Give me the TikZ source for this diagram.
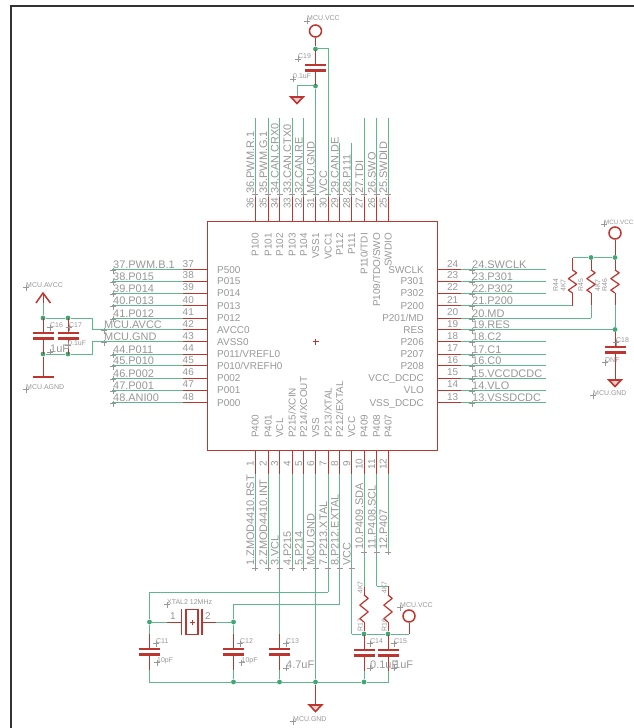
\documentclass[tikz,border=0pt]{standalone}
\usepackage{fontspec}
\setmainfont{Liberation Sans}
\definecolor{sred}{HTML}{BC352E}
\definecolor{sgreen}{HTML}{5FB88C}
\definecolor{jgreen}{HTML}{3FA873}
\definecolor{tgray}{HTML}{979797}
\definecolor{frameg}{HTML}{333333}
\tikzset{
  pinred/.style={draw=sred,line width=1bp},
  wire/.style={draw=sgreen,line width=1bp},
  junction/.style={circle,fill=jgreen,inner sep=0pt,minimum size=4.8bp},
  sym/.style={draw=sred,line width=1.2bp},
  plate/.style={draw=sred,line width=2.2bp},
  chipbox/.style={draw=sred,line width=1bp},
  pinname/.style={inner sep=0pt,text=tgray,font=\fontsize{10}{10}\selectfont},
  netname/.style={inner sep=0pt,text=tgray,font=\fontsize{11}{11}\selectfont},
  smalltxt/.style={inner sep=0pt,text=tgray,font=\fontsize{7}{7}\selectfont},
  orig/.style={draw=tgray,line width=0.4bp},
  vcccirc/.style={circle,draw=sred,line width=1.5bp,inner sep=0pt,minimum size=12bp},
}
% text-origin cross
\newcommand{\origc}[2]{\draw[orig] (#1-3,#2) -- (#1+3,#2) (#1,#2-3) -- (#1,#2+3);}
% small label: name, x, y, text
\newcommand{\slbl}[4]{\origc{#2}{#3}\node[smalltxt,anchor=base west] (#1) at (#2,#3) {#4};}
% rotated small label
\newcommand{\rlbl}[4]{\node[smalltxt,rotate=90,anchor=base west] (#1) at (#2,#3) {#4};}
% capacitor: name, x, y of upper plate
\newcommand{\capv}[3]{%
  \coordinate (#1t) at (#2,#3-15);
  \coordinate (#1p) at (#2,#3);
  \coordinate (#1q) at (#2,#3+5.5);
  \coordinate (#1b) at (#2,#3+20.5);
  \draw[pinred] (#1t) -- (#1p) (#1q) -- (#1b);
  \draw[plate] (#2-10.5,#3) -- (#2+10.5,#3) (#2-10.5,#3+5.5) -- (#2+10.5,#3+5.5);}
% resistor: name, x, y1, y2
\newcommand{\resv}[4]{%
  \pgfmathsetmacro{\rs}{(#4-#3)/8}
  \coordinate (#1t) at (#2,#3);
  \coordinate (#1b) at (#2,#4);
  \draw[sym,line join=round] (#1t) -- ++(4.2,\rs) -- ++(-8.4,2*\rs) -- ++(8.4,2*\rs) -- ++(-8.4,2*\rs) -- (#1b);}
% ground triangle: x, y top
\newcommand{\gndtri}[2]{%
  \draw[draw=sred,line width=1.6bp,fill=sred!25,line join=miter] (#1-6.2,#2) -- (#1+6.2,#2) -- (#1,#2+6.5) -- cycle;}
\begin{document}
\begin{tikzpicture}[x=1bp,y=-1bp]
\useasboundingbox (0,0) rectangle (634,728);
% frame
\coordinate (fa) at (11,6); \coordinate (fb) at (634,6); \coordinate (fc) at (11,728);
\draw[frameg,line width=1.3bp] (fb) -- (fa) -- (fc);
% chip
\node[chipbox,minimum width=230bp,minimum height=229bp,inner sep=0pt,anchor=north west] (chip) at (207,221) {};
\draw[draw=sred,line width=0.7bp] (312.5,341.5) -- (318.5,341.5) (315.5,338.5) -- (315.5,344.5);
% left pins
\foreach \n/\y/\nm/\net in {37/269.5/P500/{37.PWM.B.1},38/281/P015/{38.P015},39/293/P014/{39.P014},40/305.5/P013/{40.P013},41/318/P012/{41.P012},44/354/P011\slash VREFL0/{44.P011},45/365.5/P010\slash VREFH0/{45.P010},46/378/P002/{46.P002},47/390/P001/{47.P001},48/402.5/P000/{48.ANI00}}{
  \coordinate (La\n) at (207,\y); \coordinate (L\n) at (183,\y); \coordinate (Le\n) at (112,\y);
  \draw[pinred] (La\n) -- (L\n);
  \draw[wire] (L\n) -- (Le\n);
  \node[pinname,anchor=base east] (Ln\n) at (194,\y-2.5) {\n};
  \node[pinname,anchor=base west] (Lp\n) at (217,\y+3.5) {\nm};
  \node[netname,anchor=base west] (Lt\n) at (113,\y-1) {\net};
  \origc{113}{\y+1}
}
\foreach \n/\y/\nm/\net in {42/329.5/AVCC0/{MCU.AVCC},43/341.5/AVSS0/{MCU.GND}}{
  \coordinate (La\n) at (207,\y); \coordinate (L\n) at (183,\y); \coordinate (Le\n) at (92,\y);
  \draw[pinred] (La\n) -- (L\n);
  \draw[wire] (L\n) -- (Le\n);
  \node[pinname,anchor=base east] (Ln\n) at (194,\y-2.5) {\n};
  \node[pinname,anchor=base west] (Lp\n) at (217,\y+3.5) {\nm};
  \node[netname,anchor=base west] (Lt\n) at (104,\y-1) {\net};
  \origc{104}{\y+1}
}
% right pins
\foreach \n/\y/\nm/\net/\xe in {24/269.5/SWCLK/{24.SWCLK}/546,23/281/P301/{23.P301}/546,22/293/P302/{22.P302}/546,21/305.5/P200/{21.P200}/572.5,20/318/P201\slash MD/{20.MD}/591,19/329.5/RES/{19.RES}/615,18/341.5/P206/{18.C2}/546,17/354/P207/{17.C1}/546,16/365.5/P208/{16.C0}/546,15/378/VCC\_DCDC/{15.VCCDCDC}/546,14/390/VLO/{14.VLO}/546,13/402.5/VSS\_DCDC/{13.VSSDCDC}/546}{
  \coordinate (Ra\n) at (437,\y); \coordinate (R\n) at (461,\y); \coordinate (Re\n) at (\xe,\y);
  \draw[pinred] (Ra\n) -- (R\n);
  \draw[wire] (R\n) -- (Re\n);
  \node[pinname,anchor=base west] (Rn\n) at (447,\y-2.5) {\n};
  \node[pinname,anchor=base east] (Rp\n) at (424,\y+3.5) {\nm};
  \node[netname,anchor=base west] (Rt\n) at (472,\y-1) {\net};
  \origc{472}{\y+1}
}
% top pins
\foreach \n/\x/\nm/\net/\ye in {36/255/P100/{36.PWM.R.1}/118,35/268/P101/{35.PWM.G.1}/118,34/279.5/P102/{34.CAN.CRX0}/118,33/292/P103/{33.CAN.CTX0}/118,32/303.5/P104/{32.CAN.RE}/118,31/315.5/VSS1/{MCU.GND}/197,30/328/VCC1/{VCC}/197,29/339.5/P112/{29.CAN.DE}/143,28/351.5/P111/{28.P111}/143,27/364/P110\slash TDI/{27.TDI}/118,26/376.5/P109\slash TDO\slash SWO/{26.SWO}/118,25/388/SWDIO/{25.SWDID}/118}{
  \coordinate (Ta\n) at (\x,221); \coordinate (T\n) at (\x,197); \coordinate (Te\n) at (\x,\ye);
  \draw[pinred] (Ta\n) -- (T\n);
  \draw[wire] (T\n) -- (Te\n);
  \node[pinname,rotate=90,anchor=base] (Tn\n) at (\x-1.5,203) {\n};
  \node[pinname,rotate=90,anchor=base east] (Tp\n) at (\x+3.5,233) {\nm};
  \node[netname,rotate=90,anchor=base west] (Tt\n) at (\x-1,194) {\net};
  \origc{\x}{194}
}
% bottom pins
\foreach \n/\x/\nm/\net/\ys/\ye in {1/255/P400/{1.ZMOD4410.RST}/566/568,2/268/P401/{2.ZMOD4410.INT}/566/568,3/279.5/VCL/{3.VCL}/566/635,4/292/P215\slash XCIN/{4.P215}/566/568,5/303.5/P214\slash XCOUT/{5.P214}/566/568,6/315.5/VSS/{MCU.GND}/566/474,7/328/P213\slash XTAL/{7.P213.XTAL}/566/592,8/339.5/P212\slash EXTAL/{8.P212.EXTAL}/566/604,9/351.5/VCC/{VCC}/566/634,10/364/P409/{10.P409.SDA}/550/587,11/376.5/P408/{11.P408.SCL}/550/586,12/388/P407/{12.P407}/550/550}{
  \coordinate (Ba\n) at (\x,450); \coordinate (B\n) at (\x,474); \coordinate (Be\n) at (\x,\ye);
  \draw[pinred] (Ba\n) -- (B\n);
  \draw[wire] (B\n) -- (Be\n);
  \node[pinname,rotate=90,anchor=base] (Bn\n) at (\x-1.5,464) {\n};
  \node[pinname,rotate=90,anchor=base west] (Bp\n) at (\x+3.5,438) {\nm};
  \node[netname,rotate=90,anchor=base west] (Bt\n) at (\x-1,\ys) {\net};
  \origc{\x}{\ys+2}
}
% junctions
\foreach \nm/\x/\y in {jTa/315.5/49,jTb/315.5/86,jAa/43/318,jAb/68/318,jAc/43/354,jAd/68/354,jRa/591/257.5,jRb/615/257.5,jRc/615/329.5,jXa/149.5/622,jXb/233.5/622,jGa/233.5/682,jGb/279.5/682,jGc/315.5/682,jGd/364/682,jPa/364/634,jPb/388/634}{
  \node[junction] (\nm) at (\x,\y) {};
}
% ---- top VCC / C19 / GND
\node[vcccirc] (vccT) at (315.5,31) {};
\slbl{vccTl}{307}{21}{MCU.VCC}
\capv{Cn}{315.5}{65}
\draw[pinred] (vccT) -- (jTa);
\draw[pinred] (jTa) -- (Cnt) (Cnb) -- (jTb);
\coordinate (cTa) at (328,49);
\draw[wire] (jTa) -- (cTa) -- (Te30);
\draw[wire] (jTb) -- (Te31);
\coordinate (cTb) at (297,86); \coordinate (gTa) at (297,97);
\draw[wire] (jTb) -- (cTb) -- (gTa);
\gndtri{297}{97}
\slbl{c19}{298}{59}{C19}
\slbl{c19v}{293}{79}{0.1uF}
% ---- left caps
\capv{Ca}{43}{333}
\capv{Cb}{68}{333}
\coordinate (avA) at (43,303); \coordinate (avT) at (43,293); \coordinate (agB) at (43,377);
\coordinate (cLa) at (92,318); \coordinate (cLb) at (92,354);
\draw[wire] (Le42) -- (cLa) -- (jAb) -- (jAa);
\draw[wire] (Le43) -- (cLb) -- (jAd) -- (jAc);
\draw[pinred] (jAa) -- (Cat) (Cab) -- (jAc) (jAb) -- (Cbt) (Cbb) -- (jAd);
\draw[wire] (jAa) -- (avA);
\draw[pinred] (avA) -- (avT);
\draw[draw=sred,line width=1.5bp] (36,303) -- (avT) -- (50.5,303);
\draw[pinred] (jAc) -- (agB);
\draw[plate] (32.5,377) -- (53.5,377);
\slbl{avl}{26}{287.5}{MCU.AVCC}
\slbl{agl}{26}{389.5}{MCU.AGND}
\slbl{c16}{50}{327.5}{C16}
\slbl{c17}{69}{327.5}{C17}
\origc{50}{352}\node[netname,anchor=base west] (c16v) at (50,352) {1uF};
\slbl{c17v}{68}{345.5}{0.1uF}
% ---- right side
\node[vcccirc] (vccR) at (615,233) {};
\slbl{vccRl}{604}{224}{\fontsize{6.3}{6.3}\selectfont MCU.VCC}
\coordinate (rA) at (572.5,257.5);
\draw[pinred] (vccR) -- (jRb);
\draw[wire] (rA) -- (jRa) -- (jRb);
\resv{Ra}{572.5}{270}{293}
\resv{Rb}{591}{270}{293}
\resv{Rc}{615}{270}{293}
\draw[pinred] (rA) -- (Rat) (jRa) -- (Rbt) (jRb) -- (Rct);
\coordinate (rAq) at (572.5,305.5);\coordinate (rBq) at (591,305);\coordinate (rCq) at (615,305);
\draw[pinred] (Rab) -- (rAq) (Rbb) -- (rBq) (Rcb) -- (rCq);
\draw[wire] (rAq) -- (Re21);
\draw[wire] (rBq) -- (Re20);
\draw[wire] (rCq) -- (jRc);
\draw[wire] (Re19) -- (jRc);
\capv{Cr}{615}{347}
\coordinate (gRa) at (615,380);
\draw[pinred] (jRc) -- (Crt) (Crb) -- (gRa);
\gndtri{615}{380}
\slbl{c18}{616}{342.5}{C18}
\slbl{c18v}{605}{362.5}{DNF}
\slbl{gRl}{593}{395.5}{MCU.GND}
\rlbl{ra1}{558}{292}{R44}
\rlbl{ra2}{565.5}{292}{4K7}
\rlbl{rb1}{583}{292}{R45}
\rlbl{rb2}{600}{292}{4K7}
\rlbl{rc1}{607}{292}{R46}
% ---- crystal
\coordinate (xA) at (167,622); \coordinate (xB) at (181.5,622); \coordinate (xC) at (202,622); \coordinate (xD) at (216,622);
\draw[wire] (jXa) -- (xA); \draw[pinred] (xA) -- (xB);
\draw[pinred] (xC) -- (xD); \draw[wire] (xD) -- (jXb);
\draw[draw=sred,line width=1.6bp] (181.5,609) -- (181.5,635) (202,609) -- (202,635);
\node[draw=sred,line width=1.4bp,minimum width=12bp,minimum height=24.5bp,inner sep=0pt] (xtal) at (192,622) {};
\draw[draw=sred,line width=0.8bp] (189.5,622) -- (194.5,622) (192,619.5) -- (192,624.5);
\node[pinname,anchor=base] (xp1) at (173,619) {1};
\node[pinname,anchor=base] (xp2) at (208,619) {2};
\slbl{xl}{167}{604.5}{XTAL2 12MHz}
% crystal nets
\coordinate (c7a) at (149.5,592); \coordinate (c8a) at (233.5,604);
\draw[wire] (Be7) -- (c7a) -- (jXa);
\draw[wire] (Be8) -- (c8a) -- (jXb);
% ---- load caps
\capv{Ck}{149.5}{649}
\capv{Cl}{233.5}{649}
\capv{Cm}{279.5}{649}
\coordinate (gL) at (149.5,682);
\draw[wire] (jXa) -- (Ckt);
\draw[wire] (jXb) -- (Clt);
\draw[wire] (Ckb) -- (gL) -- (jGa) -- (jGb) -- (jGc) -- (jGd);
\draw[wire] (Clb) -- (jGa);
\draw[wire] (Cmb) -- (jGb);
\draw[wire] (Be6) -- (jGc);
\slbl{c11}{156}{643.5}{C11}
\slbl{c11v}{157}{662.5}{10pF}
\slbl{c12}{240}{643.5}{C12}
\slbl{c12v}{241.5}{662.5}{10pF}
\slbl{c13}{286}{643.5}{C13}
\origc{286}{668}\node[netname,anchor=base west] (c13v) at (286,668) {4.7uF};
% ---- I2C pull-ups and caps
\resv{Rd}{364}{595}{622}
\resv{Re}{388}{595}{622}
\coordinate (cSa) at (388,586);
\draw[pinred] (Be10) -- (Rdt) (Rdb) -- (jPa);
\draw[wire] (Be11) -- (cSa);
\draw[pinred] (cSa) -- (Ret) (Reb) -- (jPb);
\node[vcccirc] (vccB) at (409,616) {};
\coordinate (cSb) at (409,634);
\draw[pinred] (vccB) -- (cSb);
\draw[wire] (Be9) -- (jPa) -- (jPb) -- (cSb);
\capv{Cp}{364}{650}
\capv{Cq}{388}{650}
\draw[pinred] (jPa) -- (Cpt) (jPb) -- (Cqt);
\coordinate (gR) at (388,682);
\draw[wire] (Cpb) -- (jGd) (Cqb) -- (gR) -- (jGd);
\slbl{vccBl}{400}{607.5}{MCU.VCC}
\slbl{c14}{370}{643.5}{C14}
\slbl{c15}{394}{643.5}{C15}
\origc{370}{668}\node[netname,anchor=base west] (c14v) at (370,668) {0.1uF};
\origc{394}{668}\node[netname,anchor=base west] (c15v) at (394,668) {1uF};
\rlbl{rd1}{362.5}{594}{4K7}
\rlbl{re1}{386.5}{594}{4K7}
\rlbl{rd2}{362.5}{632}{R17}
\rlbl{re2}{386.5}{632}{R16}
% ---- bottom GND
\coordinate (gBa) at (315.5,705);
\draw[pinred] (jGc) -- (gBa);
\gndtri{315.5}{705}
\slbl{gBl}{293}{721.5}{MCU.GND}
\end{tikzpicture}
\end{document}
